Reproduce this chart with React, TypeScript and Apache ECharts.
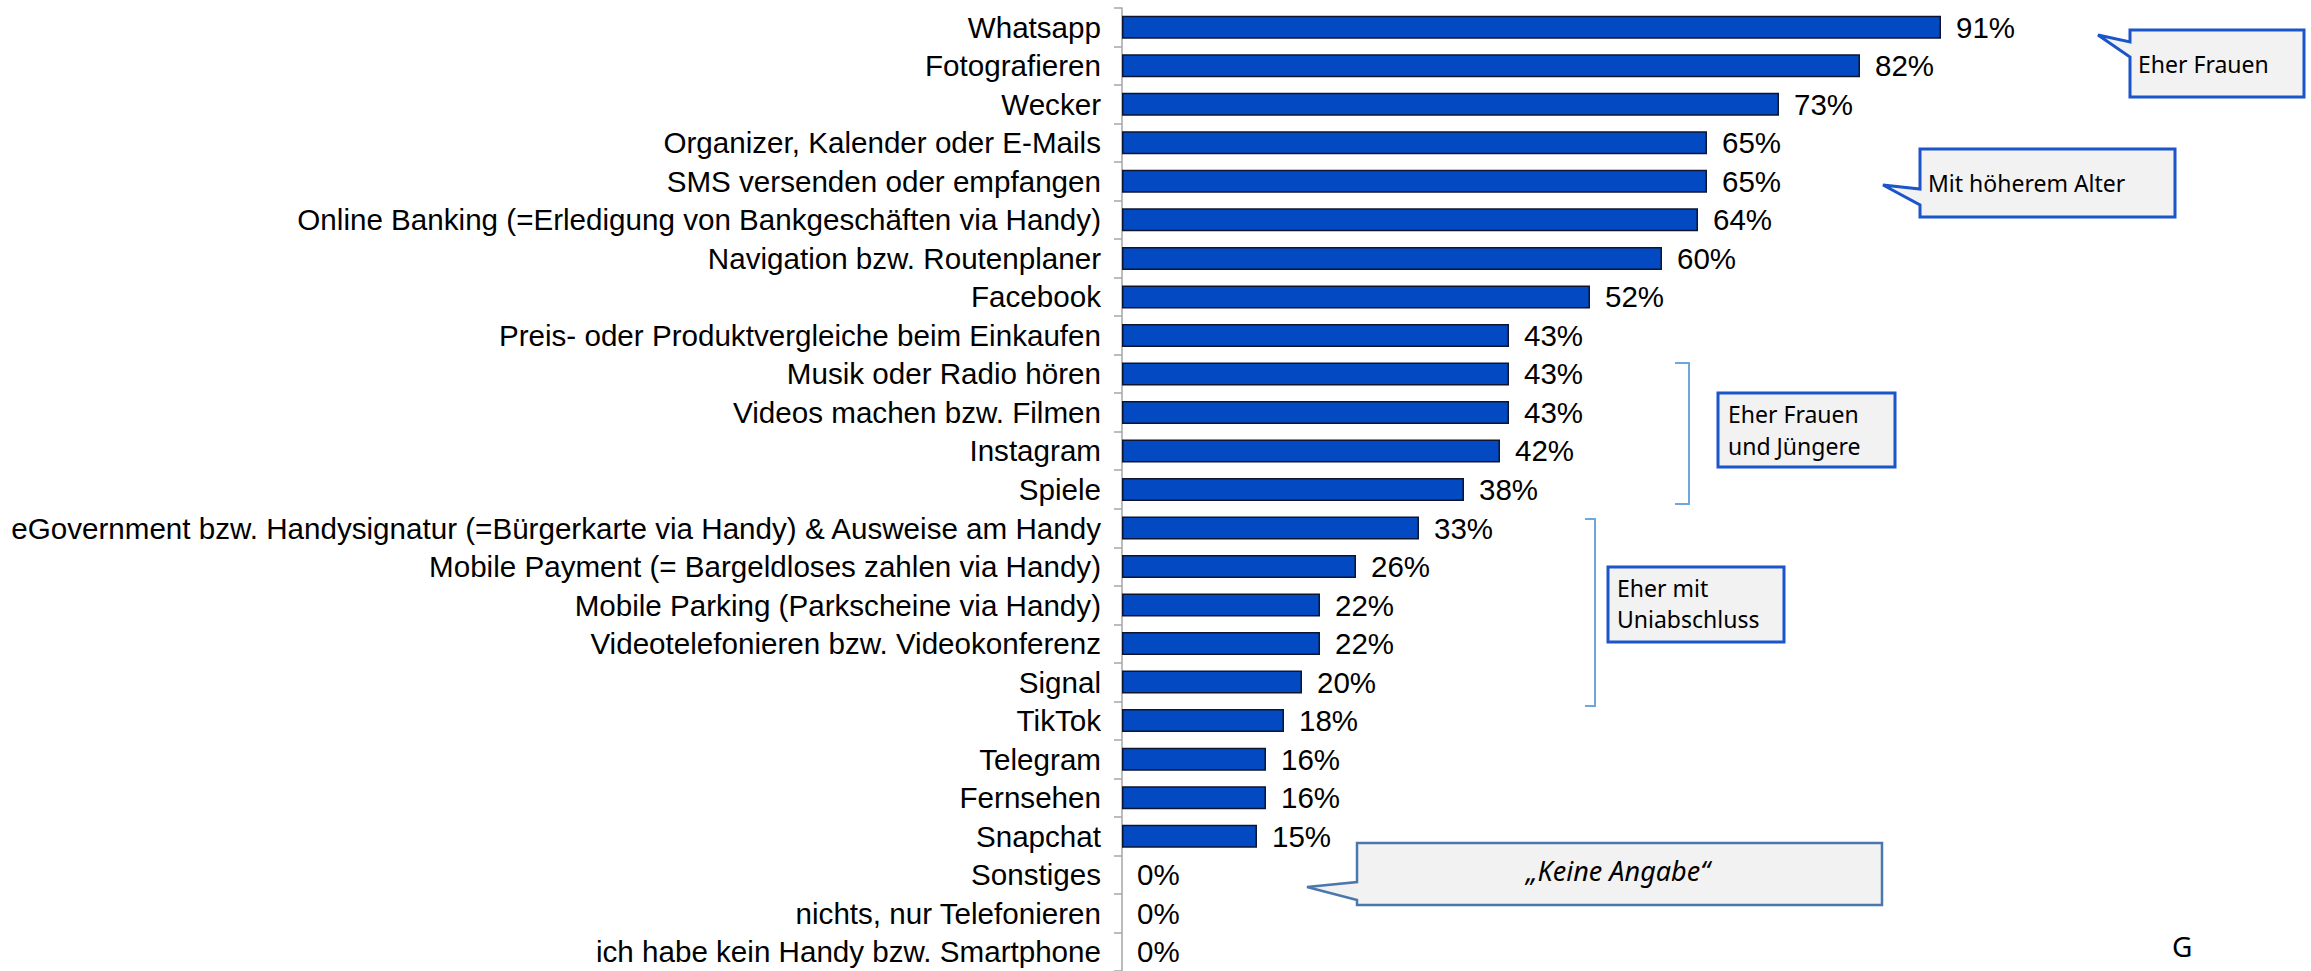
import React, { useEffect, useRef } from "react";
import * as echarts from "echarts";

const categories: string[] = [
  "Whatsapp",
  "Fotografieren",
  "Wecker",
  "Organizer, Kalender oder E-Mails",
  "SMS versenden oder empfangen",
  "Online Banking (=Erledigung von Bankgeschäften via Handy)",
  "Navigation bzw. Routenplaner",
  "Facebook",
  "Preis- oder Produktvergleiche beim Einkaufen",
  "Musik oder Radio hören",
  "Videos machen bzw. Filmen",
  "Instagram",
  "Spiele",
  "eGovernment bzw. Handysignatur (=Bürgerkarte via Handy) & Ausweise am Handy",
  "Mobile Payment (= Bargeldloses zahlen via Handy)",
  "Mobile Parking (Parkscheine via Handy)",
  "Videotelefonieren bzw. Videokonferenz",
  "Signal",
  "TikTok",
  "Telegram",
  "Fernsehen",
  "Snapchat",
  "Sonstiges",
  "nichts, nur Telefonieren",
  "ich habe kein Handy bzw. Smartphone",
];

const values: number[] = [91, 82, 73, 65, 65, 64, 60, 52, 43, 43, 43, 42, 38, 33, 26, 22, 22, 20, 18, 16, 16, 15, 0, 0, 0];

const calloutFrauen = "Eher Frauen";
const calloutAlter = "Mit höherem Alter";
const calloutKeine = "„Keine Angabe“";
const boxJuengere = ["Eher Frauen", "und Jüngere"];
const boxUni = ["Eher mit", "Uniabschluss"];

const ARIAL = "'Liberation Sans', Arial, sans-serif";
const NOTO = "'Noto Sans', 'Open Sans', sans-serif";

export default function App() {
  const ref = useRef<HTMLDivElement>(null);
  useEffect(() => {
    if (!ref.current) return;
    const chart = echarts.init(ref.current, undefined, { renderer: "svg" });
    const boxFill = "#f2f2f2";
    const boxBlue = "#1b55c9";
    const bracketBlue = "#6fa6dc";
    const txt = (x: number, y: number, t: string, extra: any = {}) => ({
      type: "text",
      style: {
        x,
        y,
        text: t,
        font: `23px ${NOTO}`,
        fill: "#000",
        textAlign: "left",
        textVerticalAlign: "middle",
        ...extra,
      },
      z: 10,
    });
    const barData = values.map((v) => ({
      value: v,
      itemStyle: v === 0 ? { borderWidth: 0 } : undefined,
    }));
    chart.setOption({
      animation: false,
      backgroundColor: "#ffffff",
      grid: { left: 1122, top: 8, width: 900, height: 975, containLabel: false },
      xAxis: {
        type: "value",
        min: 0,
        max: 100,
        show: false,
      },
      yAxis: {
        type: "category",
        inverse: true,
        data: categories,
        axisLine: { show: true, lineStyle: { color: "#a6a6a6", width: 1.5 } },
        axisTick: { show: true, interval: 0, length: 8, lineStyle: { color: "#a6a6a6", width: 1.5 } },
        axisLabel: {
          interval: 0,
          margin: 21,
          fontSize: 29.6,
          fontFamily: ARIAL,
          color: "#000",
        },
        splitLine: { show: false },
      },
      series: [
        {
          type: "bar",
          data: barData,
          barWidth: 23,
          itemStyle: { color: "#0349c2", borderColor: "#0d1530", borderWidth: 1.5 },
          label: {
            show: true,
            position: "right",
            distance: 15,
            formatter: "{c}%",
            fontSize: 29.5,
            fontFamily: ARIAL,
            color: "#000",
          },
        },
      ],
      graphic: [
        // Callout "Eher Frauen"
        {
          type: "polygon",
          shape: {
            points: [
              [2130, 30], [2304, 30], [2304, 97], [2130, 97], [2130, 57], [2098, 35], [2130, 42],
            ],
          },
          style: { fill: boxFill, stroke: boxBlue, lineWidth: 3 },
          z: 5,
        },
        txt(2138, 64, calloutFrauen),
        // Callout "Mit höherem Alter"
        {
          type: "polygon",
          shape: {
            points: [
              [1920, 149], [2175, 149], [2175, 217], [1920, 217], [1920, 205], [1883, 185], [1920, 189],
            ],
          },
          style: { fill: boxFill, stroke: boxBlue, lineWidth: 3 },
          z: 5,
        },
        txt(1928, 183, calloutAlter),
        // Callout "Keine Angabe"
        {
          type: "polygon",
          shape: {
            points: [
              [1357, 843], [1882, 843], [1882, 905], [1357, 905], [1357, 900], [1307, 887], [1357, 882],
            ],
          },
          style: { fill: boxFill, stroke: "#4a78ad", lineWidth: 2.5 },
          z: 5,
        },
        txt(1618, 870, calloutKeine, { textAlign: "center", font: `italic 27px ${NOTO}` }),
        // Bracket 1
        {
          type: "polyline",
          shape: { points: [[1675, 363], [1689, 363], [1689, 504], [1675, 504]] },
          style: { stroke: bracketBlue, lineWidth: 2, fill: "none" },
          z: 5,
        },
        {
          type: "rect",
          shape: { x: 1718, y: 393, width: 177, height: 74 },
          style: { fill: boxFill, stroke: boxBlue, lineWidth: 3 },
          z: 5,
        },
        txt(1728, 414, boxJuengere[0]),
        txt(1728, 446, boxJuengere[1]),
        // Bracket 2
        {
          type: "polyline",
          shape: { points: [[1585, 519], [1595, 519], [1595, 706], [1585, 706]] },
          style: { stroke: bracketBlue, lineWidth: 2, fill: "none" },
          z: 5,
        },
        {
          type: "rect",
          shape: { x: 1608, y: 567, width: 176, height: 75 },
          style: { fill: boxFill, stroke: boxBlue, lineWidth: 3 },
          z: 5,
        },
        txt(1617, 588, boxUni[0]),
        txt(1617, 619, boxUni[1]),
        // letter at bottom right
        {
          type: "text",
          style: {
            x: 2172,
            y: 932,
            text: "G",
            font: `28px ${NOTO}`,
            fill: "#000",
            textAlign: "left",
            textVerticalAlign: "top",
          },
          z: 10,
        },
      ],
    });
    return () => chart.dispose();
  }, []);
  return (
    <div
      ref={ref}
      style={{ position: "fixed", left: 0, top: 0, width: 2311, height: 971, background: "#fff" }}
    />
  );
}
